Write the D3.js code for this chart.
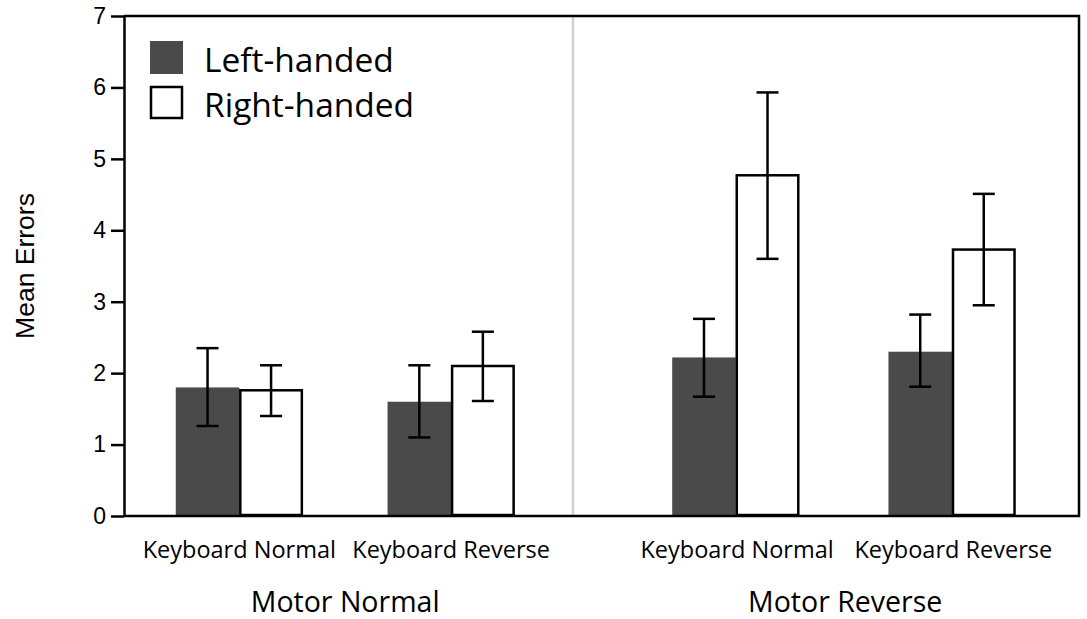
<!DOCTYPE html>
<html>
<head>
<meta charset="utf-8">
<script src="https://cdn.jsdelivr.net/npm/d3@7"></script>
<style>
  body { margin: 0; background: #fff; }
  text { font-family: "Open Sans", sans-serif; fill: #000; }
  .y-axis text, .y-label { font-family: "Liberation Sans", Arial, sans-serif; }
</style>
</head>
<body>
<svg id="chart"></svg>
<script>
// data
const motorConditions = ['Motor Normal', 'Motor Reverse'];
const keyboardConditions = ['Keyboard Normal', 'Keyboard Reverse'];
const handGroups = ['Left-handed', 'Right-handed'];

// means, per motor condition, keyboard condition
const leftMeans  = [[1.80, 1.60], [2.22, 2.30]];
const rightMeans = [[1.76, 2.10], [4.77, 3.73]];
// error bar ends
const leftLow   = [[1.26, 1.10], [1.67, 1.81]];
const leftHigh  = [[2.35, 2.11], [2.76, 2.82]];
const rightLow  = [[1.40, 1.61], [3.60, 2.95]];
const rightHigh = [[2.11, 2.58], [5.93, 4.51]];

const yTicks = [0, 1, 2, 3, 4, 5, 6, 7];

const width = 1087, height = 619;
const margin = {top: 16, right: 8, bottom: 103, left: 124};
const innerW = width - margin.left - margin.right;
const innerH = height - margin.top - margin.bottom;

const svg = d3.select('#chart')
    .attr('width', width)
    .attr('height', height);

const chart = svg.append('g')
    .attr('transform', `translate(${margin.left},${margin.top})`);

const yScale = d3.scaleLinear()
    .domain([0, 7])
    .range([innerH, 0]);

// panels split at the divider
const dividerX = 449;
const panelRanges = [[0, dividerX], [dividerX, innerW]];
const panelAlign = [0.47, 0.62];

// flatten rows
const rows = [];
motorConditions.forEach((m, mi) => {
    keyboardConditions.forEach((k, ki) => {
        rows.push({motor: m, mi, keyboard: k, ki, hand: handGroups[0], hi: 0,
            value: leftMeans[mi][ki], low: leftLow[mi][ki], high: leftHigh[mi][ki]});
        rows.push({motor: m, mi, keyboard: k, ki, hand: handGroups[1], hi: 1,
            value: rightMeans[mi][ki], low: rightLow[mi][ki], high: rightHigh[mi][ki]});
    });
});

const groupScales = panelRanges.map((r, i) => d3.scaleBand()
    .domain(keyboardConditions)
    .range(r)
    .paddingInner(0.4)
    .paddingOuter(i === 0 ? 0.26 : 0.37)
    .align(panelAlign[i]));

const handScale = d3.scaleBand()
    .domain(handGroups)
    .range([0, groupScales[0].bandwidth()]);

const colour = d3.scaleOrdinal()
    .domain(handGroups)
    .range(['#4a4a4a', '#ffffff']);

// divider
chart.append('line')
    .attr('x1', dividerX).attr('x2', dividerX)
    .attr('y1', 0).attr('y2', innerH)
    .attr('stroke', '#d0d0d0')
    .attr('stroke-width', 2.5);

// bars
const barX = d => groupScales[d.mi](d.keyboard) + handScale(d.hand);
chart.selectAll('.bar')
    .data(rows)
    .join('rect')
    .attr('class', 'bar')
    .attr('x', d => barX(d) + (d.hi ? 1 : 0))
    .attr('width', d => handScale.bandwidth() - (d.hi ? 2 : 0))
    .attr('y', d => yScale(d.value))
    .attr('height', d => yScale(0) - yScale(d.value) - (d.hi ? 1 : 0))
    .attr('fill', d => colour(d.hand))
    .attr('stroke', d => d.hi ? '#000' : 'none')
    .attr('stroke-width', 2.5);

// error bars
const capW = 22;
const err = chart.selectAll('.err')
    .data(rows)
    .join('g')
    .attr('class', 'err')
    .attr('transform', d => `translate(${barX(d) + handScale.bandwidth() / 2},0)`)
    .attr('stroke', '#000')
    .attr('stroke-width', 2.5);

err.append('line')
    .attr('y1', d => yScale(d.low))
    .attr('y2', d => yScale(d.high));
err.append('line')
    .attr('x1', -capW / 2).attr('x2', capW / 2)
    .attr('y1', d => yScale(d.high)).attr('y2', d => yScale(d.high));
err.append('line')
    .attr('x1', -capW / 2).attr('x2', capW / 2)
    .attr('y1', d => yScale(d.low)).attr('y2', d => yScale(d.low));

// frame: top, right, bottom
chart.append('path')
    .attr('d', `M0,0H${innerW}V${innerH}H0`)
    .attr('fill', 'none')
    .attr('stroke', '#000')
    .attr('stroke-width', 2.5);

// y axis
const yAxis = d3.axisLeft(yScale)
    .tickValues(yTicks)
    .tickFormat(d3.format('d'))
    .tickSize(13)
    .tickSizeOuter(0)
    .tickPadding(5);

chart.append('g')
    .attr('class', 'axis y-axis')
    .call(yAxis)
    .call(g => g.select('.domain').attr('stroke-width', 2.5))
    .call(g => g.selectAll('.tick line').attr('stroke-width', 2.5))
    .call(g => g.selectAll('.tick text').style('font-size', '23px'));

chart.append('text')
    .attr('class', 'y-label')
    .attr('transform', `translate(${34 - margin.left},${yScale(3.5)}) rotate(-90)`)
    .attr('text-anchor', 'middle')
    .style('font-size', '26.5px')
    .text('Mean Errors');

// x labels
rows.filter(d => d.hi === 0).forEach(d => {
    chart.append('text')
        .attr('x', groupScales[d.mi](d.keyboard) + groupScales[d.mi].bandwidth() / 2)
        .attr('y', innerH + 42)
        .attr('text-anchor', 'middle')
        .style('font-size', '23.5px')
        .text(d.keyboard);
});

motorConditions.forEach((m, i) => {
    const sc = groupScales[i];
    const x0 = sc(keyboardConditions[0]);
    const x1 = sc(keyboardConditions[1]) + sc.bandwidth();
    chart.append('text')
        .attr('x', (x0 + x1) / 2)
        .attr('y', innerH + 96)
        .attr('text-anchor', 'middle')
        .style('font-size', '28.5px')
        .text(m);
});

// legend
const legend = chart.append('g')
    .attr('transform', 'translate(26,25)');
const legendItem = legend.selectAll('.legend-item')
    .data(handGroups)
    .join('g')
    .attr('class', 'legend-item')
    .attr('transform', (d, i) => `translate(0,${i * 45})`);
legendItem.append('rect')
    .attr('x', d => d === handGroups[1] ? 1 : 0)
    .attr('y', d => d === handGroups[1] ? 1 : 0)
    .attr('width', d => d === handGroups[1] ? 31 : 33)
    .attr('height', d => d === handGroups[1] ? 31 : 33)
    .attr('fill', d => colour(d))
    .attr('stroke', d => d === handGroups[1] ? '#000' : 'none')
    .attr('stroke-width', 2.5);
legendItem.append('text')
    .attr('x', 54)
    .attr('y', 31)
    .style('font-size', '33.5px')
    .text(d => d);
</script>
</body>
</html>
